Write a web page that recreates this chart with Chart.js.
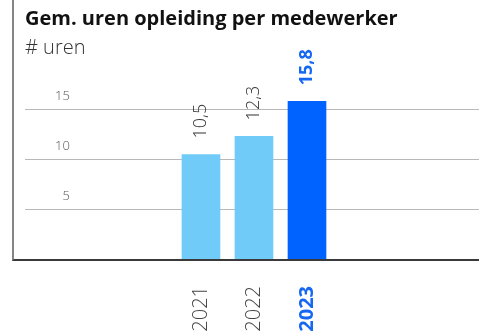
<!DOCTYPE html>
<html>
<head>
<meta charset="utf-8">
<script src="https://cdn.jsdelivr.net/npm/chart.js@4.4.1/dist/chart.umd.min.js"></script>
<style>
  html, body { margin: 0; padding: 0; background: #fff; }
  body { width: 479px; height: 335px; position: relative; overflow: hidden; font-family: 'Open Sans', sans-serif; }
  #frame {
    position: absolute; left: 12px; top: 0; width: 467px; height: 259px;
    border-left: 2px solid #858585; border-bottom: 2px solid #3a3a3a;
    z-index: 2; pointer-events: none;
  }
  #title { position: absolute; left: 25px; top: 4px; font-size: 20px; font-weight: 700; color: #111; z-index: 3; white-space: nowrap; }
  #unit { position: absolute; left: 25px; top: 33px; font-size: 20px; font-weight: 300; color: #333; z-index: 3; }
  #wrap { position: absolute; left: 0; top: 0; width: 479px; height: 335px; }
</style>
</head>
<body>
<div id="title">Gem. uren opleiding per medewerker</div>
<div id="unit"># uren</div>
<div id="frame"></div>
<div id="wrap"><canvas id="myChart" width="479" height="335"></canvas></div>
<script>
// training hours per employee
const years = [2021, 2022, 2023];
const hours = [10.5, 12.3, 15.8];
const yTicks = [5, 10, 15];
const currentYear = 2023;

const lightBlue = '#70cbf8';
const darkBlue = '#0062ff';
const labelBlue = '#1668f2';
const family = "'Open Sans', sans-serif";

const fmt = v => v.toFixed(1).replace('.', ',');

// value labels standing upright above each bar
const barLabels = {
  id: 'barLabels',
  afterDatasetsDraw(chart) {
    const ctx = chart.ctx;
    const meta = chart.getDatasetMeta(0);
    meta.data.forEach((bar, i) => {
      const cur = years[i] === currentYear;
      ctx.save();
      ctx.translate(bar.x, bar.y - 16);
      ctx.rotate(-Math.PI / 2);
      ctx.font = (cur ? '700 ' : '300 ') + '18px ' + family;
      ctx.fillStyle = cur ? labelBlue : '#333';
      ctx.textAlign = 'left';
      ctx.textBaseline = 'middle';
      ctx.fillText(fmt(hours[i]), 0, 0);
      ctx.restore();
    });
  }
};

let ctx = document.getElementById('myChart').getContext('2d');
let myChart = new Chart(ctx, {
  type: 'bar',
  data: {
    datasets: [{
      data: years.map((y, i) => ({ x: y, y: hours[i] })),
      backgroundColor: years.map(y => y === currentYear ? darkBlue : lightBlue),
      borderWidth: 0,
      barThickness: 38
    }]
  },
  plugins: [barLabels],
  options: {
    responsive: false,
    animation: false,
    layout: { padding: { left: 25, top: 59, right: 0, bottom: 0 } },
    plugins: { legend: { display: false }, tooltip: { enabled: false } },
    scales: {
      x: {
        type: 'linear',
        offset: false,
        min: 2017.68,
        max: 2026.245,
        border: { display: false },
        grid: { display: false, drawTicks: false },
        afterFit: scale => { scale.height = 75; },
        afterBuildTicks: scale => { scale.ticks = years.map(y => ({ value: y })); },
        ticks: {
          autoSkip: false,
          minRotation: 90,
          maxRotation: 90,
          padding: 26,
          callback: v => String(v),
          color: c => c.tick && c.tick.value === currentYear ? labelBlue : '#444',
          font: c => ({
            family: family,
            size: 20,
            weight: c.tick && c.tick.value === currentYear ? '700' : '300'
          })
        }
      },
      y: {
        min: 0,
        max: 20,
        border: { display: false },
        afterFit: scale => { scale.width = 0; },
        afterBuildTicks: scale => { scale.ticks = yTicks.map(v => ({ value: v })); },
        grid: { color: '#b8b8b8', lineWidth: 1, drawTicks: false },
        ticks: {
          mirror: true,
          crossAlign: 'far',
          padding: 30,
          labelOffset: -13,
          color: '#555',
          font: { family: family, size: 13, weight: '300' }
        }
      }
    }
  }
});
</script>
</body>
</html>
